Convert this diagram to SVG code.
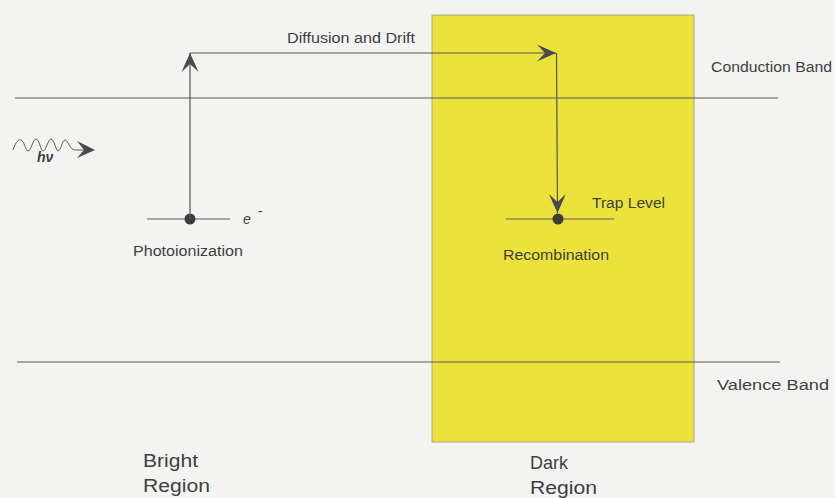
<svg xmlns="http://www.w3.org/2000/svg" width="835" height="498" viewBox="0 0 835 498">
<style>
.t{font-family:"Liberation Sans",Arial,sans-serif;fill:#3f3f3f;font-size:14px}
.big{font-size:17.5px}
.ln{stroke:#5a5a5a;stroke-width:1;fill:none}
.conn{stroke:#555;stroke-width:1.2;fill:none;marker-end:url(#ah)}
.dot{fill:#3c3c3c}
</style>
<defs>
<marker id="ah" markerUnits="userSpaceOnUse" viewBox="-20 -10 22 20" refX="0" refY="0" markerWidth="22" markerHeight="20" orient="auto">
<path d="M0,0 L-19,-8.5 L-11,0 L-19,8.5 Z" fill="#4a4a4a"/>
</marker>
</defs>
<rect x="0" y="0" width="835" height="498" fill="#f3f3f1"/>
<g id="dark-region">
<rect x="432" y="15" width="262" height="427" fill="#ebe23c" stroke="#9a9a80" stroke-width="0.8"/>
</g>
<g id="conduction-band">
<line class="ln" x1="15" y1="98" x2="778" y2="98"/>
<text class="t" x="711" y="72" textLength="121" lengthAdjust="spacingAndGlyphs">Conduction Band</text>
</g>
<g id="valence-band">
<line class="ln" x1="17" y1="362" x2="780" y2="362"/>
<text class="t" x="717" y="390" textLength="112" lengthAdjust="spacingAndGlyphs">Valence Band</text>
</g>
<g id="photon">
<path class="ln" stroke-width="1.1" d="M13,150 C16,141 19,139 21,140 C24,141 26,151 28,151 C31,151 33,139 36,139 C39,139 41,151 43,151 C46,151 48,139 51,139 C54,139 56,151 58,151 C61,151 62,140 65,140 C68,140 70,150 75,150 L90,150"/>
<path d="M95,150 L77,141 L84,150 L77,158 Z" fill="#4a4a4a"/>
<text class="t" x="37" y="162" font-size="13" font-weight="bold" font-style="italic">hν</text>
</g>
<g id="photoionization">
<line class="ln" x1="147" y1="219" x2="230" y2="219"/>
<circle class="dot" cx="190" cy="219" r="5.5"/>
<text class="t" x="243" y="224" font-size="13" font-style="italic">e</text>
<text class="t" x="258" y="216" font-size="10">-</text>
<text class="t" x="133" y="256" textLength="110" lengthAdjust="spacingAndGlyphs">Photoionization</text>
</g>
<g id="recombination">
<line class="ln" x1="506" y1="219" x2="614" y2="219"/>
<circle class="dot" cx="558" cy="219" r="5.5"/>
<text class="t" x="592" y="208" textLength="73" lengthAdjust="spacingAndGlyphs">Trap Level</text>
<text class="t" x="503" y="260" textLength="106" lengthAdjust="spacingAndGlyphs">Recombination</text>
</g>
<g id="connectors">
<line class="conn" x1="190" y1="219" x2="190" y2="53"/>
<line class="conn" x1="190" y1="53" x2="556" y2="53"/>
<line class="conn" x1="556.5" y1="53" x2="557.5" y2="213"/>
<text class="t" x="287" y="43" textLength="128" lengthAdjust="spacingAndGlyphs">Diffusion and Drift</text>
</g>
<g id="bright-label">
<text class="t big" x="143" y="467" textLength="55" lengthAdjust="spacingAndGlyphs">Bright</text>
<text class="t big" x="143" y="492" textLength="67" lengthAdjust="spacingAndGlyphs">Region</text>
</g>
<g id="dark-label">
<text class="t big" x="530" y="469" textLength="38" lengthAdjust="spacingAndGlyphs">Dark</text>
<text class="t big" x="530" y="494" textLength="67" lengthAdjust="spacingAndGlyphs">Region</text>
</g>
</svg>
